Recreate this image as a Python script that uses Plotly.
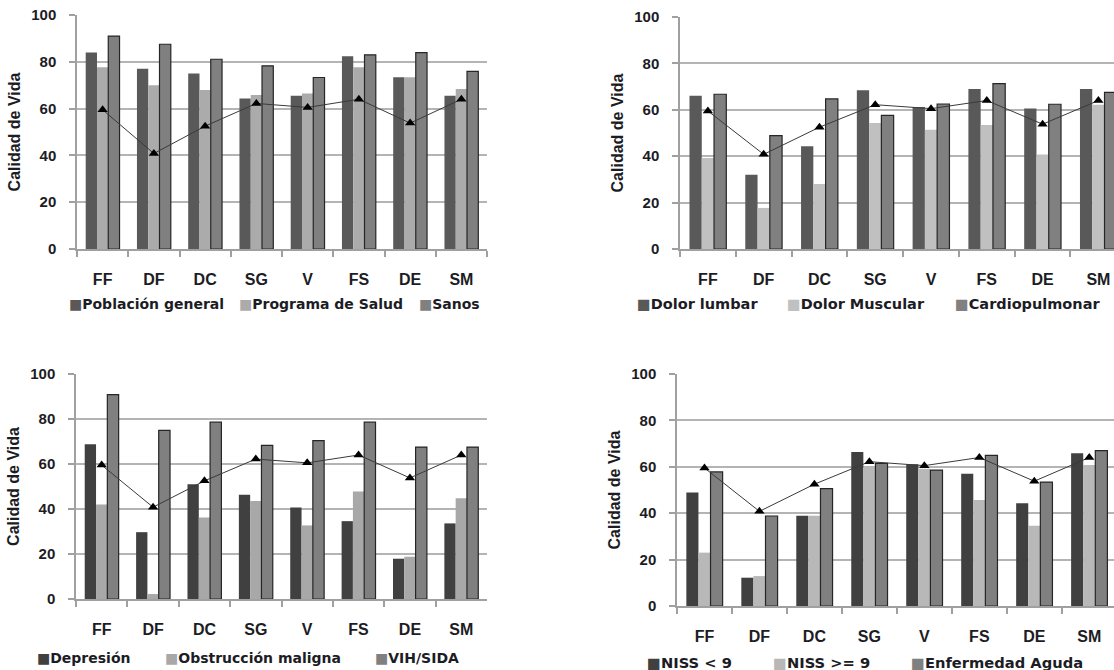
import plotly.graph_objects as go

categories = ["FF", "DF", "DC", "SG", "V", "FS", "DE", "SM"]

# reference line (same in all panels)
referencia = [59.5, 40.8, 52.5, 62.2, 60.5, 64.0, 53.8, 64.0]

# Panel 1
p1_names = ["Población general", "Programa de Salud", "Sanos"]
poblacion_general = [84.0, 77.0, 75.0, 64.3, 65.5, 82.4, 73.4, 65.5]
programa_salud = [77.7, 70.0, 67.9, 65.8, 66.5, 77.7, 73.4, 68.4]
sanos = [91.0, 87.5, 81.1, 78.3, 73.3, 83.0, 83.9, 75.9]

# Panel 2
p2_names = ["Dolor lumbar", "Dolor Muscular", "Cardiopulmonar"]
dolor_lumbar = [66.1, 32.0, 44.3, 68.4, 61.2, 69.0, 60.6, 69.0]
dolor_muscular = [39.2, 17.7, 28.0, 54.3, 51.4, 53.4, 40.7, 62.2]
cardiopulmonar = [66.7, 48.9, 64.7, 57.6, 62.5, 71.3, 62.4, 67.5]

# Panel 3
p3_names = ["Depresión", "Obstrucción maligna", "VIH/SIDA"]
depresion = [68.8, 29.7, 51.0, 46.3, 40.7, 34.6, 17.9, 33.6]
obstruccion = [42.0, 2.2, 36.2, 43.6, 32.7, 47.8, 18.8, 44.8]
vih_sida = [90.8, 74.9, 78.6, 68.3, 70.4, 78.6, 67.5, 67.5]

# Panel 4
p4_names = ["NISS < 9", "NISS >= 9", "Enfermedad Aguda"]
niss_menor = [48.9, 12.2, 38.9, 66.4, 61.1, 57.0, 44.3, 65.8]
niss_mayor = [23.0, 12.9, 38.9, 59.8, 59.2, 45.7, 34.6, 60.8]
enf_aguda = [57.8, 38.8, 50.6, 61.5, 58.6, 64.9, 53.4, 67.0]

W, H = 1114, 670
FONT = "Liberation Sans, Arial, sans-serif"
LFONT = "DejaVu Sans, Liberation Sans, sans-serif"
TXT = "#1c1c24"

panels = [
    dict(series=[poblacion_general, programa_salud, sanos], names=p1_names,
         colors=["#595959", "#ababab", "#808080"],
         px=(77, 487), py=(15, 249), xr=[-0.5, 7.5],
         ly=304, lx=[67, 237, 417], lsize=14.0),
    dict(series=[dolor_lumbar, dolor_muscular, cardiopulmonar], names=p2_names,
         colors=["#595959", "#c0c0c0", "#808080"],
         px=(680, 1114), py=(17, 249), xr=[-0.5, 7.28],
         ly=304, lx=[635, 785, 953], lsize=14.5),
    dict(series=[depresion, obstruccion, vih_sida], names=p3_names,
         colors=["#404040", "#a8a8a8", "#808080"],
         px=(76, 487), py=(374, 599), xr=[-0.5, 7.5],
         ly=658, lx=[35, 163, 373], lsize=14.0),
    dict(series=[niss_menor, niss_mayor, enf_aguda], names=p4_names,
         colors=["#404040", "#b8b8b8", "#808080"],
         px=(677, 1114), py=(374, 606), xr=[-0.5, 7.45],
         ly=662, lx=[645, 771, 909], lsize=14.7),
]

fig = go.Figure()
layout = {}
annotations = []
for i, p in enumerate(panels, start=1):
    xa = "x" if i == 1 else f"x{i}"
    ya = "y" if i == 1 else f"y{i}"
    for k, (vals, name, col) in enumerate(zip(p["series"], p["names"], p["colors"])):
        outline = "#262626" if k == 2 else col
        fig.add_trace(go.Bar(
            x=categories, y=vals, name=name, xaxis=xa, yaxis=ya,
            marker=dict(color=col, line=dict(color=outline, width=1.2 if k == 2 else 0)),
            offsetgroup=str(k), showlegend=False,
        ))
        # legend entry as text: coloured square + label
        annotations.append(dict(
            x=p["lx"][k] / W, y=1 - p["ly"] / H, xref="paper", yref="paper",
            xanchor="left", yanchor="middle", showarrow=False,
            text=f"<span style='color:{col}'>■</span>{name}",
            font=dict(family=LFONT, size=p["lsize"], color=TXT, weight="bold"),
        ))
    fig.add_trace(go.Scatter(
        x=categories, y=referencia, xaxis=xa, yaxis=ya, mode="lines+markers",
        line=dict(color="#3a3a3a", width=1),
        marker=dict(symbol="triangle-up", size=9, color="#000000"),
        showlegend=False,
    ))
    x0, x1 = p["px"]
    y0, y1 = p["py"]
    xkey = "xaxis" if i == 1 else f"xaxis{i}"
    ykey = "yaxis" if i == 1 else f"yaxis{i}"
    layout[xkey] = dict(
        domain=[x0 / W, x1 / W], anchor=ya, range=p["xr"], type="category",
        showline=True, linecolor="#a0a0a0", linewidth=1.5,
        ticks="outside", tickson="boundaries", ticklen=6, tickcolor="#a0a0a0", tickwidth=1.5,
        ticklabelstandoff=15,
        tickfont=dict(family=FONT, size=16, color=TXT, weight="bold"),
        showgrid=False, fixedrange=True, automargin=False,
    )
    layout[ykey] = dict(
        domain=[1 - y1 / H, 1 - y0 / H], anchor=xa, range=[0, 100],
        tickvals=[0, 20, 40, 60, 80, 100],
        showline=True, linecolor="#a0a0a0", linewidth=1.5,
        ticks="outside", ticklen=6, tickcolor="#a0a0a0", tickwidth=1.5,
        ticklabelstandoff=10,
        showgrid=True, gridcolor="#b4b4b4", gridwidth=1.5, zeroline=False,
        tickfont=dict(family=FONT, size=15, color=TXT, weight="bold"),
        title=dict(text="Calidad de Vida", standoff=7,
                   font=dict(family=FONT, size=16, color=TXT, weight="bold")),
        fixedrange=True, automargin=False,
    )

fig.update_layout(
    width=W, height=H, margin=dict(l=0, r=0, t=0, b=0, autoexpand=False),
    paper_bgcolor="white", plot_bgcolor="white",
    barmode="group", bargap=0.34, bargroupgap=0.0,
    showlegend=False, annotations=annotations,
    **layout,
)

# remove the page's default body margin so the figure fills the window exactly
fig.write_html(
    "out.html",
    config={"displayModeBar": False},
    post_script="document.body.style.margin='0';document.body.style.overflow='hidden';",
)
